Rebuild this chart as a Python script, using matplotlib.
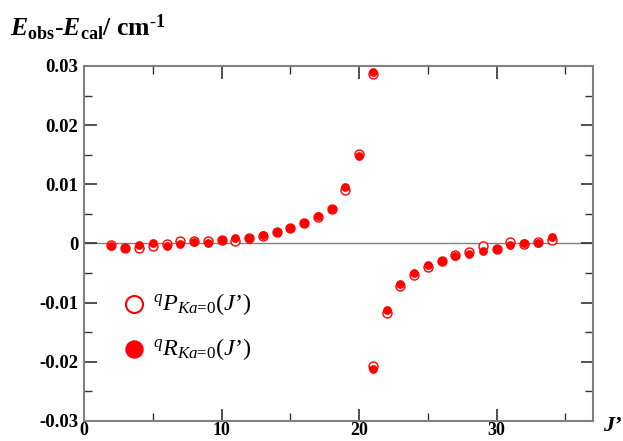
import numpy as np
import matplotlib.pyplot as plt
from matplotlib.ticker import MultipleLocator

plt.rcParams['font.family'] = ['Liberation Serif', 'DejaVu Serif']
plt.rcParams['mathtext.fontset'] = 'custom'
plt.rcParams['mathtext.rm'] = 'Liberation Serif'
plt.rcParams['mathtext.it'] = 'Liberation Serif:italic'
plt.rcParams['mathtext.bf'] = 'Liberation Serif:bold'
plt.rcParams['mathtext.bfit'] = 'Liberation Serif:bold:italic'

# J' values and residuals (cm-1)
J = np.arange(2, 35)
resid_P = [-0.0003, -0.0007, -0.0007, -0.0005, -0.0001, 0.0005, 0.0004, 0.0005,
           0.0006, 0.0005, 0.0009, 0.0013, 0.0019, 0.0026, 0.0035, 0.0045,
           0.0059, 0.0090, 0.0152, 0.0287, -0.0118, -0.0072, -0.0054, -0.0040,
           -0.0030, -0.0020, -0.0014, -0.0005, -0.0010, 0.0002, -0.0001, 0.0002,
           0.0006]
resid_R = [-0.0004, -0.0007, -0.0003, 0.0000, -0.0005, -0.0001, 0.0002, 0.0000,
           0.0006, 0.0010, 0.0010, 0.0015, 0.0020, 0.0027, 0.0035, 0.0047,
           0.0059, 0.0095, 0.0148, 0.0289, -0.0113, -0.0068, -0.0050, -0.0037,
           -0.0029, -0.0021, -0.0017, -0.0013, -0.0010, -0.0002, 0.0001, 0.0000,
           0.0011]
# second branch point at J'=21
J_extra = [21]
P_extra = [-0.0207]
R_extra = [-0.0212]

red = '#ff0000'
fig = plt.figure(figsize=(6.23, 4.41), dpi=100)
ax = fig.add_axes([0.1348, 0.0454, 0.817, 0.805])

ax.axhline(0, color='#808080', lw=1.0, zorder=1)
ax.scatter(J, resid_P, s=42, facecolors='white', edgecolors=red, linewidths=1.0, zorder=2)
ax.scatter(J_extra, P_extra, s=42, facecolors='white', edgecolors=red, linewidths=1.0, zorder=2)
ax.scatter(J, resid_R, s=28, color=red, zorder=3)
ax.scatter(J_extra, R_extra, s=28, color=red, zorder=3)

ax.set_xlim(0, 37)
ax.set_ylim(-0.03, 0.03)
ax.xaxis.set_major_locator(MultipleLocator(10))
ax.xaxis.set_minor_locator(MultipleLocator(5))
ax.yaxis.set_major_locator(MultipleLocator(0.01))
ax.yaxis.set_minor_locator(MultipleLocator(0.005))
ax.tick_params(which='both', direction='in', top=True, right=True, color='#333333')
ax.tick_params(which='major', length=9, width=1.2)
ax.tick_params(which='minor', length=6, width=1.0)
ax.tick_params(axis='y', pad=4)
ax.tick_params(axis='x', pad=1)
xt = [0, 10, 20, 30]
yt = [-0.03, -0.02, -0.01, 0, 0.01, 0.02, 0.03]
ax.set_xticks(xt)
ax.set_xticklabels([str(v) for v in xt], fontfamily='Liberation Serif',
                   fontweight='bold', fontsize=13)
ax.set_yticks(yt)
ax.set_yticklabels(['-0.03', '-0.02', '-0.01', '0', '0.01', '0.02', '0.03'],
                   fontfamily='Liberation Serif', fontweight='bold', fontsize=13.5)
for sp in ax.spines.values():
    sp.set_color('#808080')
    sp.set_linewidth(1.5)

# legend drawn by hand
ax.scatter([3.6], [-0.0102], s=150, facecolors='white', edgecolors=red, linewidths=1.5,
           clip_on=False)
ax.scatter([3.6], [-0.0178], s=150, color=red, clip_on=False)
ax.text(5.0, -0.0102, r"$^{q}P_{Ka\text{=}0}(J\mathrm{’})$", fontsize=17.5, va='center')
ax.text(5.0, -0.0178, r"$^{q}R_{Ka\text{=}0}(J\mathrm{’})$", fontsize=17.5, va='center')

fig.text(0.016, 0.937,
         r"$\mathbfit{E}_{\mathbf{obs}}\mathbf{\text{-}}\mathbfit{E}_{\mathbf{cal}}\mathbf{/\ cm}^{\mathbf{\text{-}1}}$",
         fontsize=18.5, va='center')
fig.text(0.998, 0.012, r"$\mathbfit{J}\mathbf{’}$", fontsize=16, ha='right', va='bottom')

fig.savefig('out.png', dpi=100)
